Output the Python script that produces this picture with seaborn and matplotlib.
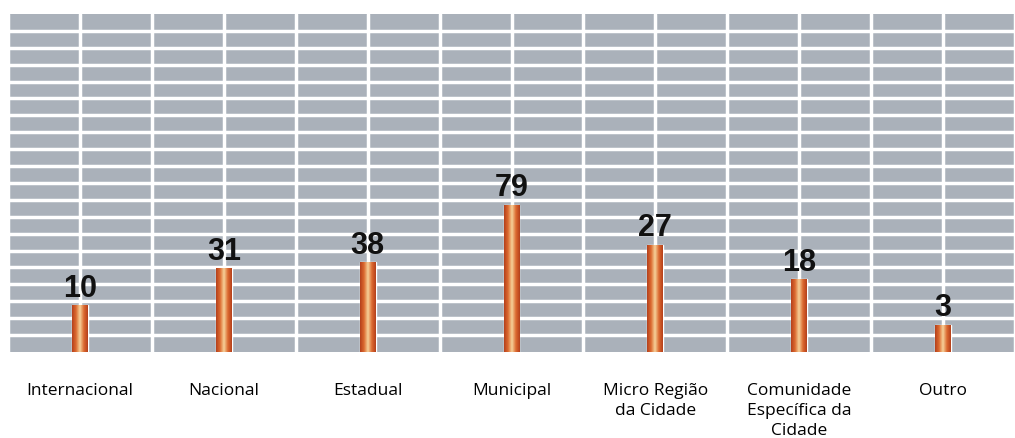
import numpy as np
import pandas as pd
import seaborn as sns
import matplotlib.pyplot as plt
from matplotlib.colors import LinearSegmentedColormap

# Categories, printed counts and bar heights as they appear in the picture
categories = ["Internacional", "Nacional", "Estadual", "Municipal",
              "Micro Região\nda Cidade", "Comunidade\nEspecífica da\nCidade", "Outro"]
counts = [10, 31, 38, 79, 27, 18, 3]
bar_heights = [2.75, 4.95, 5.3, 8.7, 6.35, 4.3, 1.6]

df = pd.DataFrame({"Categoria": categories, "Altura": bar_heights})

sns.set_style("white")
plt.rcParams['font.family'] = ['Open Sans', 'DejaVu Sans']

fig = plt.figure(figsize=(10.15, 4.39), dpi=100)
ax = fig.add_axes([0.008, 0.196, 0.992, 0.77])
ax.set_facecolor("#aab1ba")

sns.barplot(data=df, x="Categoria", y="Altura", order=categories,
            color="#d8642c", width=0.11, ax=ax, zorder=3)

# copper gradient inside each bar
copper = LinearSegmentedColormap.from_list(
    "copper_bar", ["#b5401c", "#dc6a30", "#f6d29a", "#dc6a30", "#b5401c"])
grad = np.linspace(0, 1, 64).reshape(1, -1)
for p in ax.patches:
    x0, y0 = p.get_x(), p.get_y()
    im = ax.imshow(grad, cmap=copper, aspect="auto", zorder=4,
                   extent=(x0, x0 + p.get_width(), y0, y0 + p.get_height()))
    im.set_clip_path(p)

ax.bar_label(ax.containers[0], labels=[str(c) for c in counts], padding=2,
             fontsize=22, fontweight="bold", color="#111111",
             family=["Liberation Sans", "DejaVu Sans"], zorder=5)

ax.set_xlim(-0.49, 6.4)
ax.set_ylim(0, 20)
ax.set_yticks(np.arange(1, 20))
ax.set_xticks(range(len(categories)))
ax.set_xticks(np.arange(-0.5, 7, 1.0), minor=True)
ax.grid(axis="y", which="major", color="white", linewidth=2.5)
ax.grid(axis="x", which="both", color="white", linewidth=2.5)
ax.set_axisbelow(True)

ax.set_xlabel("")
ax.set_ylabel("")
ax.tick_params(axis="y", left=False, labelleft=False)
ax.tick_params(axis="x", which="both", bottom=False, pad=18)
ax.set_xticklabels(categories, fontsize=12.5, color="black", va="top",
                   linespacing=1.35)
sns.despine(ax=ax, left=True, bottom=True, right=True, top=True)

fig.savefig("out.png", dpi=100)
